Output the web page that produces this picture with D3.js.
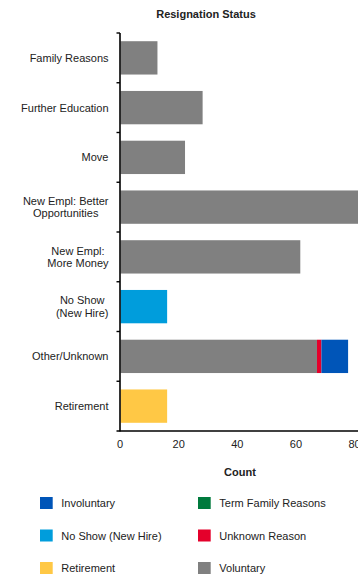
<!DOCTYPE html>
<html><head><meta charset="utf-8">
<script src="https://cdn.jsdelivr.net/npm/d3@7"></script>
<style>
html,body{margin:0;padding:0;background:#fff;overflow:hidden}
text{font-family:"Liberation Sans",Arial,sans-serif;fill:#222}
</style></head>
<body><svg id="c" width="358" height="578"></svg>
<script>
const categories = ["Family Reasons","Further Education","Move","New Empl: Better\nOpportunities","New Empl:\nMore Money","No Show\n(New Hire)","Other/Unknown","Retirement"];
const seriesNames = ["Voluntary","Unknown Reason","Involuntary","No Show (New Hire)","Retirement","Term Family Reasons"];
const voluntary      = [12.6, 28, 22, 82, 61.3, 0, 67, 0];
const unknownReason  = [0, 0, 0, 0, 0, 0, 1.5, 0];
const involuntary    = [0, 0, 0, 0, 0, 0, 9.1, 0];
const noShow         = [0, 0, 0, 0, 0, 15.9, 0, 0];
const retirement     = [0, 0, 0, 0, 0, 0, 0, 15.9];
const termFamily     = [0, 0, 0, 0, 0, 0, 0, 0];
const xTicks = [0, 20, 40, 60, 80];
const legendOrder = ["Involuntary","Term Family Reasons","No Show (New Hire)","Unknown Reason","Retirement","Voluntary"];
const colors = {"Involuntary":"#0055b8","Term Family Reasons":"#007a3d","No Show (New Hire)":"#009ddc","Unknown Reason":"#e4002b","Retirement":"#ffc845","Voluntary":"#808080"};

const seriesVals = [voluntary, unknownReason, involuntary, noShow, retirement, termFamily];
const rows = categories.map((c,i)=>{const r={cat:c}; seriesNames.forEach((s,j)=>r[s]=seriesVals[j][i]); return r;});

const svg = d3.select("#c");
const x = d3.scaleLinear().domain([0,82]).range([120.5,361]);
const y = d3.scaleBand().domain(categories).range([33,431]).paddingInner(0.33).paddingOuter(0.165);

const stack = d3.stack().keys(seriesNames)(rows);
svg.append("g").selectAll("g").data(stack).join("g").attr("fill",d=>colors[d.key])
  .selectAll("rect").data(d=>d.filter(p=>p[1]-p[0]>0)).join("rect")
  .attr("x",d=>x(d[0])).attr("width",d=>x(d[1])-x(d[0]))
  .attr("y",d=>y(d.data.cat)).attr("height",y.bandwidth());

// title
svg.append("text").attr("x",206).attr("y",18).attr("text-anchor","middle")
  .attr("font-size",11).attr("font-weight","bold").text("Resignation Status");

// y axis line and ticks
svg.append("line").attr("x1",120).attr("x2",120).attr("y1",33).attr("y2",431.5).attr("stroke","#000").attr("stroke-width",1.6);
const bounds = categories.map(c=>y(c)-y.step()*y.paddingInner()/2);
svg.append("g").selectAll("line").data(bounds).join("line")
  .attr("x1",116.5).attr("x2",120).attr("y1",d=>d).attr("y2",d=>d).attr("stroke","#000").attr("stroke-width",1.4);

// y labels
const lab = svg.append("g");
categories.forEach(c=>{
  const lines = c.split("\n");
  const cy = y(c)+y.bandwidth()/2;
  const g = lab.append("g");
  const lh = 12.6;
  const t = lines.map((ln,k)=>g.append("text").attr("font-size",11)
    .attr("y",cy + (k-(lines.length-1)/2)*lh + 4).text(ln));
  const w = d3.max(t,n=>n.node().getComputedTextLength());
  t.forEach(n=>n.attr("text-anchor","middle").attr("x",108.5-w/2));
});

// x axis
svg.append("line").attr("x1",116.5).attr("x2",362).attr("y1",431).attr("y2",431).attr("stroke","#000").attr("stroke-width",1.6);
svg.append("g").selectAll("text").data(xTicks).join("text")
  .attr("x",d=>x(d)-0.5).attr("y",448).attr("text-anchor","middle").attr("font-size",11).text(d=>d);
svg.append("text").attr("x",240).attr("y",476).attr("text-anchor","middle")
  .attr("font-size",11).attr("font-weight","bold").text("Count");

// legend
const lg = svg.append("g");
legendOrder.forEach((n,i)=>{
  const col = i%2, row = Math.floor(i/2);
  const lx = col===0?40:198, ly = 497+row*32.5;
  lg.append("rect").attr("x",lx).attr("y",ly).attr("width",12.7).attr("height",12).attr("fill",colors[n]);
  lg.append("text").attr("x",lx+21.3).attr("y",ly+10).attr("font-size",11).text(n);
});
</script></body></html>
